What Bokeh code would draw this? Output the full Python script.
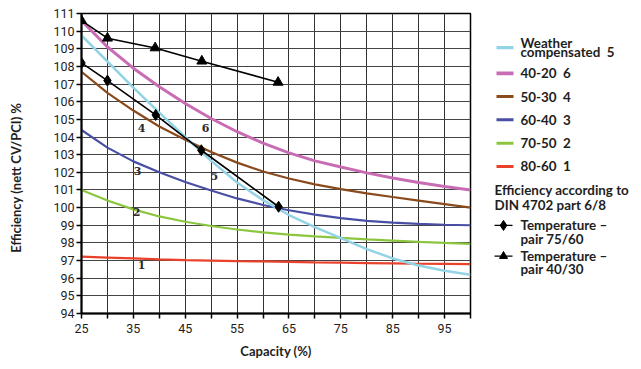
from bokeh.plotting import figure
from bokeh.models import Range1d, FixedTicker
from bokeh.layouts import row
from bokeh.embed import file_html
from bokeh.resources import INLINE
from bokeh.core.properties import value

# ---------------- data ----------------
capacity = [25, 30, 35, 40, 45, 50, 55, 60, 65, 70, 75, 80, 85, 90, 95, 100]

eff_weather_5 = [109.76, 108.28, 106.8, 105.38, 104.0, 102.65, 101.42, 100.42, 99.58, 98.9, 98.27, 97.65, 97.12, 96.72, 96.42, 96.2]
eff_40_20_6 = [110.6, 109.1, 107.9, 106.85, 105.9, 105.05, 104.3, 103.65, 103.1, 102.65, 102.3, 101.97, 101.68, 101.42, 101.2, 101.0]
eff_50_30_4 = [107.7, 106.5, 105.5, 104.6, 103.85, 103.15, 102.55, 102.05, 101.65, 101.32, 101.05, 100.81, 100.6, 100.4, 100.2, 100.0]
eff_60_40_3 = [104.4, 103.4, 102.62, 102.0, 101.45, 100.97, 100.52, 100.15, 99.85, 99.6, 99.4, 99.25, 99.15, 99.08, 99.03, 99.0]
eff_70_50_2 = [101.0, 100.4, 99.9, 99.5, 99.2, 98.96, 98.76, 98.6, 98.47, 98.37, 98.28, 98.2, 98.13, 98.06, 98.0, 97.95]
eff_80_60_1 = [97.22, 97.17, 97.12, 97.07, 97.03, 97.0, 96.97, 96.95, 96.93, 96.9, 96.88, 96.86, 96.84, 96.82, 96.81, 96.8]

din_75_60_x = [25, 30, 39.3, 48.1, 63]
din_75_60_y = [108.2, 107.2, 105.25, 103.25, 100.05]
din_40_30_x = [25, 30, 39.2, 48.2, 62.9]
din_40_30_y = [110.6, 109.6, 109.05, 108.3, 107.1]

curve_label_text = ["4", "6", "3", "5", "2", "1"]
curve_label_x = [36.6, 48.9, 35.8, 50.6, 35.6, 36.6]
curve_label_y = [104.5, 104.5, 102.05, 101.8, 99.75, 96.75]

x_major_ticks = [25, 35, 45, 55, 65, 75, 85, 95]
x_minor_ticks = [30, 40, 50, 60, 70, 80, 90, 100]
y_ticks = list(range(94, 112))

series_names = ["Weather compensated", "40-20", "50-30", "60-40", "70-50", "80-60"]
series_numbers = ["5", "6", "4", "3", "2", "1"]
series_colors = ["#93d3e6", "#c86db4", "#8a4a1c", "#4a4fa6", "#8cc63f", "#e8412c"]
series_widths = [2.5, 3.0, 2.2, 2.2, 2.2, 2.2]
series_values = [eff_weather_5, eff_40_20_6, eff_50_30_4, eff_60_40_3, eff_70_50_2, eff_80_60_1]

TXT = "#1e1e1e"
SANS = "Lato"

# ---------------- main chart ----------------
p = figure(width=480, height=361, x_range=Range1d(25, 100), y_range=Range1d(94, 111),
           output_backend="svg", toolbar_location=None,
           min_border_left=81, min_border_right=10, min_border_top=13, min_border_bottom=45)
p.background_fill_color = "white"
p.border_fill_color = "white"
p.outline_line_color = "black"
p.outline_line_width = 1.5

p.xaxis.ticker = FixedTicker(ticks=x_major_ticks, minor_ticks=x_minor_ticks)
p.yaxis.ticker = FixedTicker(ticks=y_ticks)

for ax in (p.xaxis, p.yaxis):
    ax.axis_line_width = 2
    ax.axis_line_color = "black"
    ax.major_tick_line_color = "black"
    ax.major_tick_line_width = 1.5
    ax.major_tick_in = 0
    ax.major_tick_out = 5
    ax.major_label_text_font = "Roboto"
    ax.major_label_text_font_size = "12.5px"
    ax.major_label_text_color = TXT
    ax.axis_label_text_font = SANS
    ax.axis_label_text_font_style = "bold"
    ax.axis_label_text_font_size = "13px"
    ax.axis_label_text_color = TXT

p.xaxis.minor_tick_line_color = "black"
p.xaxis.minor_tick_line_width = 1.5
p.xaxis.minor_tick_in = 0
p.xaxis.minor_tick_out = 5
p.yaxis.minor_tick_line_color = None
p.xaxis.major_label_standoff = 5
p.xaxis.axis_label_standoff = 7
p.yaxis.major_label_standoff = 2
p.yaxis.axis_label_standoff = 26
p.xaxis.axis_label = "Capacity (%)"
# trailing no-break spaces push the (rotated) title a little lower, as in the original
p.yaxis.axis_label = "Efficiency (nett CV/PCI) %" + "\u00a0" * 9

p.xgrid.grid_line_color = "#333333"
p.xgrid.grid_line_width = 1
p.xgrid.minor_grid_line_color = "#333333"
p.xgrid.minor_grid_line_width = 1
p.ygrid.grid_line_color = "#444444"
p.ygrid.grid_line_width = 1

# curves (cyan drawn last, on top)
for vals, col, w in reversed(list(zip(series_values, series_colors, series_widths))):
    p.line(capacity, vals, line_color=col, line_width=w)

p.line(din_40_30_x, din_40_30_y, line_color="black", line_width=1.6)
p.scatter(din_40_30_x, din_40_30_y, marker="triangle", size=10, color="black")
p.line(din_75_60_x, din_75_60_y, line_color="black", line_width=1.6)
p.scatter(din_75_60_x, din_75_60_y, marker="diamond", size=11, color="black")

p.text(curve_label_x, curve_label_y, text=curve_label_text,
       text_font=value("DejaVu Serif"), text_font_style="bold", text_font_size="11px",
       text_color="#2a2a2a", text_align="center", text_baseline="middle")

# ---------------- legend panel ----------------
leg = figure(width=153, height=361, x_range=Range1d(0, 153), y_range=Range1d(361, 0),
             output_backend="svg", toolbar_location=None,
             x_axis_type=None, y_axis_type=None, min_border=0)
leg.outline_line_color = None
leg.grid.visible = False
leg.background_fill_color = "white"
leg.border_fill_color = "white"

FS = "13.4px"
sw_x0, sw_x1, tx = 16, 33, 40
rows_y = [41, 72, 100, 128, 156, 184]
for i, (nm, num, col, w) in enumerate(zip(series_names, series_numbers, series_colors, series_widths)):
    yy = rows_y[i]
    leg.line([sw_x0, sw_x1], [yy, yy], line_color=col, line_width=w + 0.8)
    if i == 0:
        leg.text([tx, tx], [yy - 6, yy + 5], text=["Weather", "compensated\u00a0\u00a0" + num],
                 text_font=value(SANS), text_font_style="bold", text_font_size=FS,
                 text_color=TXT, text_baseline="middle")
    else:
        leg.text([tx], [yy], text=[nm + "\u00a0\u00a0" + num],
                 text_font=value(SANS), text_font_style="bold", text_font_size=FS,
                 text_color=TXT, text_baseline="middle")

leg.text([14, 14], [212, 230], text=["Efficiency according to", "DIN 4702 part 6/8"],
         text_font=value(SANS), text_font_style="bold", text_font_size=FS,
         text_color=TXT, text_baseline="middle")

for yy, mk, sz, lab in [(255, "diamond", 10, "pair 75/60"), (292, "triangle", 8, "pair 40/30")]:
    leg.line([14, 32], [yy, yy], line_color="black", line_width=1.3)
    leg.scatter([23], [yy], marker=mk, size=sz, color="black")
    leg.text([tx, tx], [yy, yy + 16], text=["Temperature \u2013", lab],
             text_font=value(SANS), text_font_style="bold", text_font_size=FS,
             text_color=TXT, text_baseline="middle")

layout = row(p, leg)
open("out.html", "w").write(file_html(layout, INLINE))
